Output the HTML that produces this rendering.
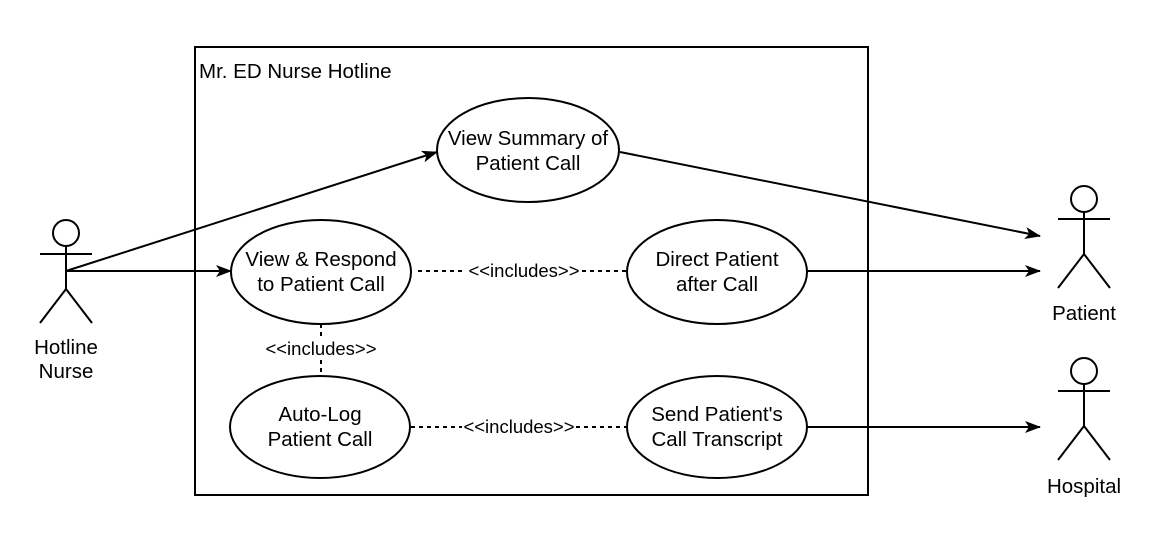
<!DOCTYPE html>
<html><head><meta charset="utf-8"><style>
html,body{margin:0;padding:0;background:#fff;}
svg{display:block;}
text{font-family:"Liberation Sans",sans-serif;font-size:20.5px;fill:#000;}
.s{font-size:18.5px;}
</style></head><body>
<svg width="1164" height="550" viewBox="0 0 1164 550" xmlns="http://www.w3.org/2000/svg">
<defs>
<marker id="a" markerWidth="16" markerHeight="12" refX="15" refY="6" orient="auto" markerUnits="userSpaceOnUse">
<path d="M0,0 L16,6 L0,12 L4,6 Z" fill="#000"/>
</marker>
</defs>
<g stroke="#000" stroke-width="2" fill="none">
<rect x="195" y="47" width="673" height="448"/>
<circle cx="66" cy="233" r="13" fill="#fff"/>
<line x1="66" y1="246" x2="66" y2="289"/>
<line x1="40" y1="254" x2="92" y2="254"/>
<line x1="66" y1="289" x2="40" y2="323"/>
<line x1="66" y1="289" x2="92" y2="323"/>
<circle cx="1084" cy="199" r="13" fill="#fff"/>
<line x1="1084" y1="212" x2="1084" y2="254"/>
<line x1="1058" y1="219" x2="1110" y2="219"/>
<line x1="1084" y1="254" x2="1058" y2="288"/>
<line x1="1084" y1="254" x2="1110" y2="288"/>
<circle cx="1084" cy="371" r="13" fill="#fff"/>
<line x1="1084" y1="384" x2="1084" y2="426"/>
<line x1="1058" y1="391" x2="1110" y2="391"/>
<line x1="1084" y1="426" x2="1058" y2="460"/>
<line x1="1084" y1="426" x2="1110" y2="460"/>
<line x1="66" y1="271" x2="437" y2="152" marker-end="url(#a)"/>
<line x1="66" y1="271" x2="231" y2="271" marker-end="url(#a)"/>
<line x1="620" y1="152" x2="1040" y2="236" marker-end="url(#a)"/>
<line x1="807" y1="271" x2="1040" y2="271" marker-end="url(#a)"/>
<line x1="807" y1="427" x2="1040" y2="427" marker-end="url(#a)"/>
<line x1="418" y1="271" x2="466" y2="271" stroke-dasharray="4,4"/>
<line x1="582" y1="271" x2="627" y2="271" stroke-dasharray="4,4"/>
<line x1="411" y1="427" x2="462" y2="427" stroke-dasharray="4,4"/>
<line x1="576" y1="427" x2="627" y2="427" stroke-dasharray="4,4"/>
<line x1="321" y1="324" x2="321" y2="339" stroke-dasharray="4,4"/>
<line x1="321" y1="360" x2="321" y2="376" stroke-dasharray="4,4"/>
<ellipse cx="528" cy="150" rx="91" ry="52" fill="#fff"/>
<ellipse cx="321" cy="272" rx="90" ry="52" fill="#fff"/>
<ellipse cx="717" cy="272" rx="90" ry="52" fill="#fff"/>
<ellipse cx="320" cy="427" rx="90" ry="51" fill="#fff"/>
<ellipse cx="717" cy="427" rx="90" ry="51" fill="#fff"/>
</g>
<text x="199" y="78">Mr. ED Nurse Hotline</text>
<g text-anchor="middle">
<text x="528" y="145">View Summary of</text>
<text x="528" y="170">Patient Call</text>
<text x="321" y="266">View &amp; Respond</text>
<text x="321" y="291">to Patient Call</text>
<text x="717" y="266">Direct Patient</text>
<text x="717" y="291">after Call</text>
<text x="320" y="421">Auto-Log</text>
<text x="320" y="446">Patient Call</text>
<text x="717" y="421">Send Patient's</text>
<text x="717" y="446">Call Transcript</text>
<text class="s" x="524" y="277">&lt;&lt;includes&gt;&gt;</text>
<text class="s" x="519" y="433">&lt;&lt;includes&gt;&gt;</text>
<text class="s" x="321" y="355">&lt;&lt;includes&gt;&gt;</text>
<text x="66" y="354">Hotline</text>
<text x="66" y="378">Nurse</text>
<text x="1084" y="320">Patient</text>
<text x="1084" y="493">Hospital</text>
</g>
</svg>
</body></html>
